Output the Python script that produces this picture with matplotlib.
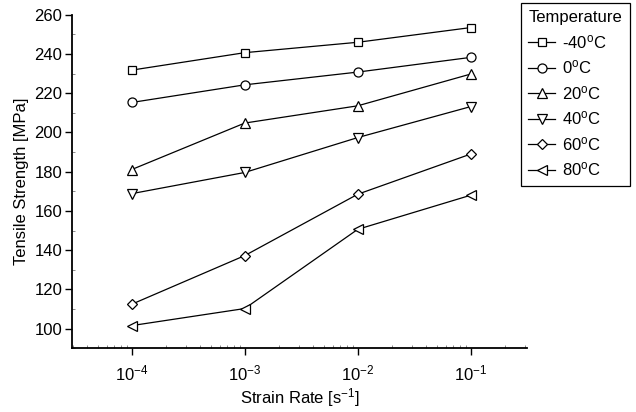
import matplotlib
matplotlib.use('Agg')
import matplotlib.pyplot as plt
from matplotlib.ticker import LogLocator, MultipleLocator, FixedLocator

plt.rcParams['font.family'] = ['Liberation Sans', 'DejaVu Sans']
plt.rcParams['mathtext.fontset'] = 'custom'
plt.rcParams['mathtext.rm'] = 'Liberation Sans'
plt.rcParams['mathtext.it'] = 'Liberation Sans'
plt.rcParams['mathtext.default'] = 'regular'
plt.rcParams['axes.unicode_minus'] = False

# strain rates [1/s]
strain_rate = [1e-4, 1e-3, 1e-2, 1e-1]

temps = ['-40', '0', '20', '40', '60', '80']
markers = ['s', 'o', '^', 'v', 'D', '<']

s_m40 = [231.8, 240.7, 246.0, 253.5]
s_0 = [215.3, 224.3, 230.8, 238.3]
s_20 = [181.1, 204.8, 213.6, 229.8]
s_40 = [168.8, 179.6, 197.4, 213.2]
s_60 = [112.4, 137.2, 168.5, 189.0]
s_80 = [101.5, 110.2, 150.6, 168.0]
series = [s_m40, s_0, s_20, s_40, s_60, s_80]

fig = plt.figure(figsize=(6.36, 4.12), dpi=100)
ax = fig.add_axes([0.113, 0.155, 0.716, 0.809])

for t, m, vals in zip(temps, markers, series):
    ms = {'s': 5.5, 'o': 6.5, '^': 6.5, 'v': 6.5, 'D': 5.5, '<': 6.5}[m]
    ax.plot(strain_rate, vals, color='black', lw=0.9, marker=m, ms=ms,
            mfc='white', mec='black', mew=0.9,
            label=t + r'$^{\mathrm{o}}$C')

ax.set_xscale('log')
ax.set_xlim(10 ** -4.53, 10 ** -0.5)
ax.set_ylim(90, 260)
ax.xaxis.set_major_locator(FixedLocator(strain_rate))
ax.set_xticklabels([r'10$^{\mathrm{-4}}$', r'10$^{\mathrm{-3}}$',
                    r'10$^{\mathrm{-2}}$', r'10$^{\mathrm{-1}}$'])
ax.xaxis.set_minor_locator(LogLocator(base=10, subs=range(2, 10)))
ax.yaxis.set_major_locator(FixedLocator(range(100, 261, 20)))
ax.yaxis.set_minor_locator(MultipleLocator(10))

ax.spines['top'].set_visible(False)
ax.spines['right'].set_visible(False)
ax.spines['left'].set_linewidth(1.3)
ax.spines['bottom'].set_linewidth(1.3)

ax.tick_params(which='major', direction='out', length=5, width=1, labelsize=12)
ax.tick_params(which='minor', direction='in', length=2, width=0.6, color='#777777')
ax.tick_params(axis='x', which='major', pad=6)
ax.tick_params(axis='y', which='major', pad=2)

ax.set_xlabel(r'Strain Rate [s$^{\mathrm{-1}}$]', fontsize=12, labelpad=2)
ax.set_ylabel('Tensile Strength [MPa]', fontsize=12, labelpad=4)

leg = ax.legend(title='Temperature', loc='upper left', bbox_to_anchor=(0.819, 0.993),
                bbox_transform=fig.transFigure, fontsize=12, title_fontsize=12,
                frameon=True, fancybox=False, edgecolor='black', framealpha=1,
                handlelength=1.6, handletextpad=0.4, labelspacing=0.45,
                borderpad=0.45, borderaxespad=0)
leg.get_frame().set_linewidth(0.9)
leg._legend_box.align = 'left'

fig.savefig('out.png', dpi=100)
